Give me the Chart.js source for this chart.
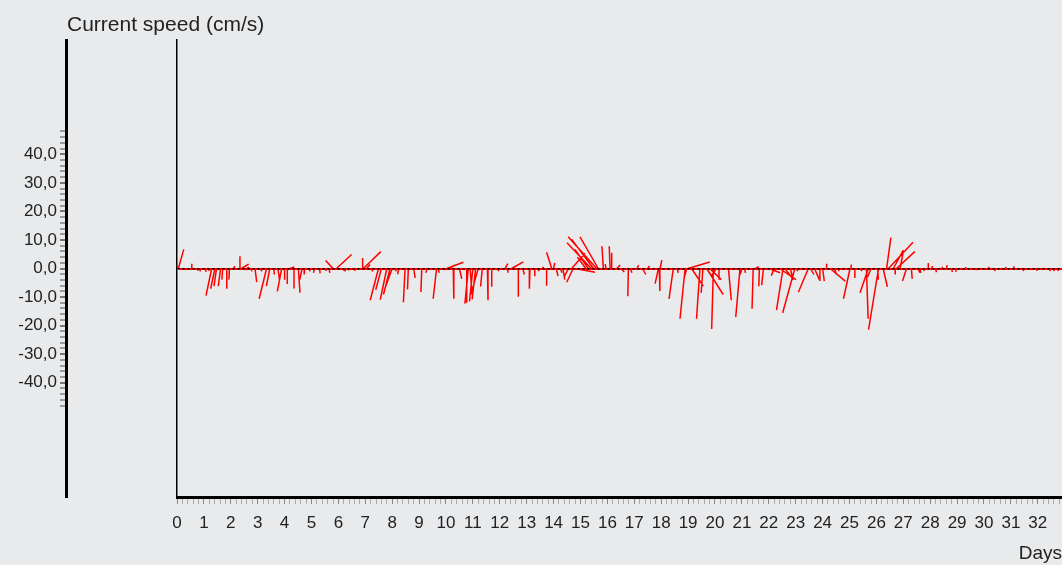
<!DOCTYPE html>
<html>
<head>
<meta charset="utf-8">
<script src="https://cdn.jsdelivr.net/npm/chart.js@4"></script>
<style>
  body { margin: 0; background: #e9eaec; }
  #wrap { width: 1062px; height: 565px; }
</style>
</head>
<body>
<div id="wrap"><canvas id="speedChart"></canvas></div>
<script>
// time of each measurement (days), east and north components of the current (cm/s)
const days = [
  0.00, 0.05, 0.30, 0.55, 0.75, 0.90, 1.05, 1.15, 1.29, 1.41, 1.47, 1.62, 1.70, 1.85, 1.95,
  2.10, 2.34, 2.40, 2.50, 2.60, 2.75, 2.90, 3.10, 3.33, 3.45, 3.60, 3.75, 3.89, 4.00, 4.10,
  4.20, 4.35, 4.51, 4.65, 4.75, 4.90, 5.10, 5.30, 5.50, 5.65, 5.80, 5.93, 6.10, 6.30, 6.50,
  6.65, 6.90, 6.93, 7.05, 7.20, 7.49, 7.60, 7.80, 7.92, 8.00, 8.10, 8.25, 8.48, 8.60, 8.80,
  9.10, 9.30, 9.65, 9.70, 9.90, 10.03, 10.15, 10.27, 10.50, 10.77, 10.83, 10.90, 11.00, 11.10, 11.20,
  11.35, 11.54, 11.70, 11.90, 12.20, 12.30, 12.44, 12.69, 12.85, 13.12, 13.30, 13.40, 13.60, 13.74, 13.93,
  14.00, 14.10, 14.25, 14.35, 14.55, 14.67, 14.73, 14.80, 15.20, 15.29, 15.40, 15.48, 15.60, 15.66, 15.85,
  15.95, 16.10, 16.16, 16.35, 16.50, 16.78, 16.85, 17.10, 17.30, 17.50, 17.90, 17.93, 17.96, 18.45, 18.60,
  18.89, 18.95, 19.00, 19.13, 19.44, 19.55, 19.69, 19.80, 19.94, 20.05, 20.15, 20.50, 20.93, 21.00, 21.10,
  21.42, 21.50, 21.65, 21.80, 22.00, 22.20, 22.40, 22.53, 22.60, 22.80, 22.97, 23.00, 23.47, 23.55, 23.70,
  23.90, 24.00, 24.15, 24.28, 24.45, 24.60, 25.02, 25.05, 25.20, 25.40, 25.63, 25.70, 25.80, 26.05, 26.08,
  26.25, 26.38, 26.45, 26.63, 26.70, 26.75, 26.88, 27.12, 27.30, 27.55, 27.62, 27.75, 27.93, 28.05, 28.20,
  28.43, 28.60, 28.80, 28.95, 29.30, 29.70, 30.17, 30.40, 30.80, 31.10, 31.46, 31.96, 32.45, 32.60, 32.75
];
const east = [
  -2.5, 1.9, 0.5, 0.0, 0.3, -0.5, 0.3, 0.5, -2.0, -1.5, -0.9, -0.8, -0.3, 0.0, -0.2,
  0.5, 0.0, 2.5, 1.0, 0.8, 0.3, 0.6, 0.5, -2.6, -1.2, 0.2, 0.6, -1.5, 0.0, 0.0,
  1.5, 0.0, 0.6, -0.8, -0.2, 0.5, -0.2, 0.2, 0.5, 0.3, -2.6, 5.3, 1.7, 1.0, 0.5,
  -0.5, 0.0, 6.1, 1.2, 0.8, -2.9, -2.0, -2.3, -2.3, -2.3, 0.5, -0.5, -0.6, -0.3, 0.5,
  -0.3, -0.5, -1.2, 0.5, 0.8, 5.8, 1.5, 0.2, 0.8, 0.0, -1.2, 0.6, -1.2, -1.2, -2.3,
  -0.6, 0.2, 0.0, 0.6, 0.9, 0.0, 4.1, 0.0, 0.6, -0.2, 0.0, 0.6, 0.2, 0.0, -1.8,
  0.4, 0.6, 0.6, 0.6, -1.5, 4.7, -2.3, 7.0, -3.0, -4.7, -8.5, -7.6, -10.0, -6.4, -0.5,
  -0.3, -0.3, 0.0, 1.2, 1.2, -0.2, 0.6, 0.6, 1.2, 0.6, -1.2, 0.2, 0.6, -1.5, 0.3,
  -1.8, -0.9, 7.6, 4.1, -1.2, -0.6, 5.8, 4.1, -0.6, -1.8, 0.0, 1.0, -1.5, -0.6, 0.3,
  -0.4, 1.2, -0.2, -0.6, 4.0, -1.0, 5.8, -2.3, 3.0, 0.8, -4.3, 0.8, -3.5, 1.2, 1.7,
  0.0, 0.6, 0.0, 5.3, 0.6, 0.0, -2.3, 0.2, 0.0, 0.6, 0.6, -2.9, -1.2, 0.2, -3.5,
  1.5, 1.5, 8.6, 3.5, 0.0, 6.4, 1.2, -1.4, 0.3, 0.6, 0.3, 0.3, 0.0, 0.4, 0.3,
  0.3, 0.3, 0.2, 0.1, 0.2, 0.2, 0.1, 0.1, 0.2, 0.1, 0.1, 0.1, 0.1, 0.1, 0.1
];
const north = [
  3.9, 6.7, -0.5, 1.7, -0.8, -1.0, -1.2, -0.8, -9.5, -7.1, -6.2, -6.2, -3.9, -7.1, -3.9,
  0.8, 4.3, 1.5, -0.5, 0.5, -1.0, -4.8, -1.0, -10.6, -6.2, -2.1, -4.1, -8.0, -3.9, -5.4,
  0.5, -7.0, -8.5, -3.9, -2.1, -1.0, -1.5, -1.7, -0.8, -1.5, 2.8, 4.9, -0.9, -0.6, -0.3,
  -0.8, 3.7, 5.9, 1.4, -1.0, -11.1, -7.5, -10.9, -9.1, -6.3, -1.0, -2.0, -11.8, -7.3, -3.3,
  -8.2, -1.5, -10.6, -1.5, -0.5, 2.2, 1.2, -10.6, -3.6, -12.0, -12.3, -9.1, -11.5, -10.8, -8.0,
  -6.3, -11.1, -6.4, -0.9, 1.7, -1.5, 2.3, -9.9, -2.1, -7.1, -2.7, -0.9, 0.6, -6.0, 5.7,
  2.0, -2.7, -1.5, -3.9, -3.0, 5.3, -4.8, -1.3, 4.0, 6.7, 9.0, 10.2, 11.1, 11.1, 7.8,
  1.5, 7.8, 5.5, 1.2, -1.2, -9.7, -1.5, 1.2, -2.1, 0.9, -5.3, -7.9, 2.9, -10.6, -1.5,
  -17.6, -3.3, 2.3, -6.2, -17.6, -8.5, -9.1, -3.9, -21.2, -2.7, -3.9, -11.1, -17.0, -2.1, -1.5,
  -14.1, 0.6, -6.2, -5.8, -1.5, -2.5, -3.9, -14.6, -4.0, -3.3, -15.6, -0.9, -8.3, -2.1, -3.9,
  -4.4, -4.4, 1.7, -4.4, -2.1, -1.0, -10.6, 1.4, -3.3, -0.9, -17.6, -8.5, -3.0, -3.9, -21.4,
  -6.4, 10.8, 9.2, 6.4, -2.1, 5.9, 6.3, -4.4, -3.6, -1.5, -1.5, -0.9, 1.9, 0.9, -1.3,
  0.6, 1.2, -1.3, -1.2, 0.5, -0.6, 0.6, -0.9, 0.5, 0.8, -0.9, -0.8, -0.9, -0.9, -0.9
];
const yLabelTicks = [-40, -30, -20, -10, 0, 10, 20, 30, 40];

const K = 0.106; // days per cm/s so sticks keep the same scale both ways

const stickPoints = [];
days.forEach(function(t, i) {
    stickPoints.push({x: t, y: 0});
    stickPoints.push({x: t + east[i] * K, y: north[i]});
    stickPoints.push({x: t, y: null});
});

const bgPlugin = {
    id: 'bg',
    beforeDraw(chart) {
        const c = chart.ctx;
        c.save();
        c.fillStyle = '#e9eaec';
        c.fillRect(0, 0, chart.width, chart.height);
        c.restore();
    },
    afterDraw(chart) {
        const c = chart.ctx;
        c.save();
        c.fillStyle = '#222';
        c.font = '21px "Liberation Sans", Arial, sans-serif';
        c.textBaseline = 'alphabetic';
        c.fillText('Current speed (cm/s)', 67, 31);
        c.restore();
    }
};

Chart.defaults.font.family = '"Liberation Sans", Arial, sans-serif';
Chart.defaults.color = '#222';

new Chart('speedChart', {
    type: 'scatter',
    data: {
        datasets: [{
            data: stickPoints,
            showLine: true,
            spanGaps: false,
            borderColor: '#ff0000',
            borderWidth: 1.5,
            pointRadius: 0
        }]
    },
    plugins: [bgPlugin],
    options: {
        responsive: true,
        maintainAspectRatio: false,
        animation: false,
        layout: { padding: { top: 40, right: 0, bottom: 0, left: 0 } },
        plugins: { legend: { display: false }, tooltip: { enabled: false } },
        scales: {
            x: {
                type: 'linear',
                min: 0,
                max: 32.9,
                afterBuildTicks(scale) {
                    const ticks = [];
                    for (let i = 0; i <= 164; i++) ticks.push({value: i / 5});
                    scale.ticks = ticks;
                },
                afterFit(scale) {
                    scale.paddingRight = 0;
                    scale.height = 68;
                },
                ticks: {
                    autoSkip: false,
                    maxRotation: 0,
                    padding: 9,
                    font: { size: 17 },
                    callback(v) {
                        const r = Math.round(v);
                        return Math.abs(v - r) < 1e-6 ? String(r) : '';
                    }
                },
                grid: {
                    drawOnChartArea: false,
                    tickLength: 7,
                    tickColor(ctx) {
                        const v = ctx.tick.value;
                        return Math.abs(v - Math.round(v)) < 1e-6 ? '#888' : '#aaa';
                    }
                },
                border: { color: '#000', width: 3 },
                title: { display: true, text: 'Days', align: 'end', font: { size: 19 }, padding: { top: 0, bottom: 0 } }
            },
            y: {
                type: 'linear',
                position: 'left',
                weight: 0,
                min: -80,
                max: 80,
                afterFit(scale) { scale.width = 111; },
                ticks: { display: false },
                grid: {
                    drawTicks: false,
                    z: 1,
                    color(ctx) { return ctx.tick.value === 0 ? '#000' : 'rgba(0,0,0,0)'; },
                    lineWidth: 1.5
                },
                border: { color: '#000', width: 1.5, dash: [2, 3], z: 1 }
            },
            yLabels: {
                type: 'linear',
                position: 'left',
                weight: 1,
                z: -1,
                min: -80,
                max: 80,
                afterFit(scale) { scale.width = 66; },
                afterBuildTicks(scale) {
                    const ticks = [];
                    for (let v = -48; v <= 48; v += 2) ticks.push({value: v});
                    scale.ticks = ticks;
                },
                ticks: {
                    autoSkip: false,
                    padding: 3,
                    font: { size: 17 },
                    callback(v) {
                        return yLabelTicks.includes(v) ? v.toFixed(1).replace('.', ',') : '';
                    }
                },
                grid: {
                    drawOnChartArea: true,
                    color(ctx) { return ctx.tick.value === 0 ? '#ff0000' : 'rgba(0,0,0,0)'; },
                    lineWidth: 2,
                    tickLength: 6,
                    tickColor(ctx) { return yLabelTicks.includes(ctx.tick.value) ? '#777' : '#999'; }
                },
                border: { color: '#000', width: 3 }
            }
        }
    }
});
</script>
</body>
</html>
